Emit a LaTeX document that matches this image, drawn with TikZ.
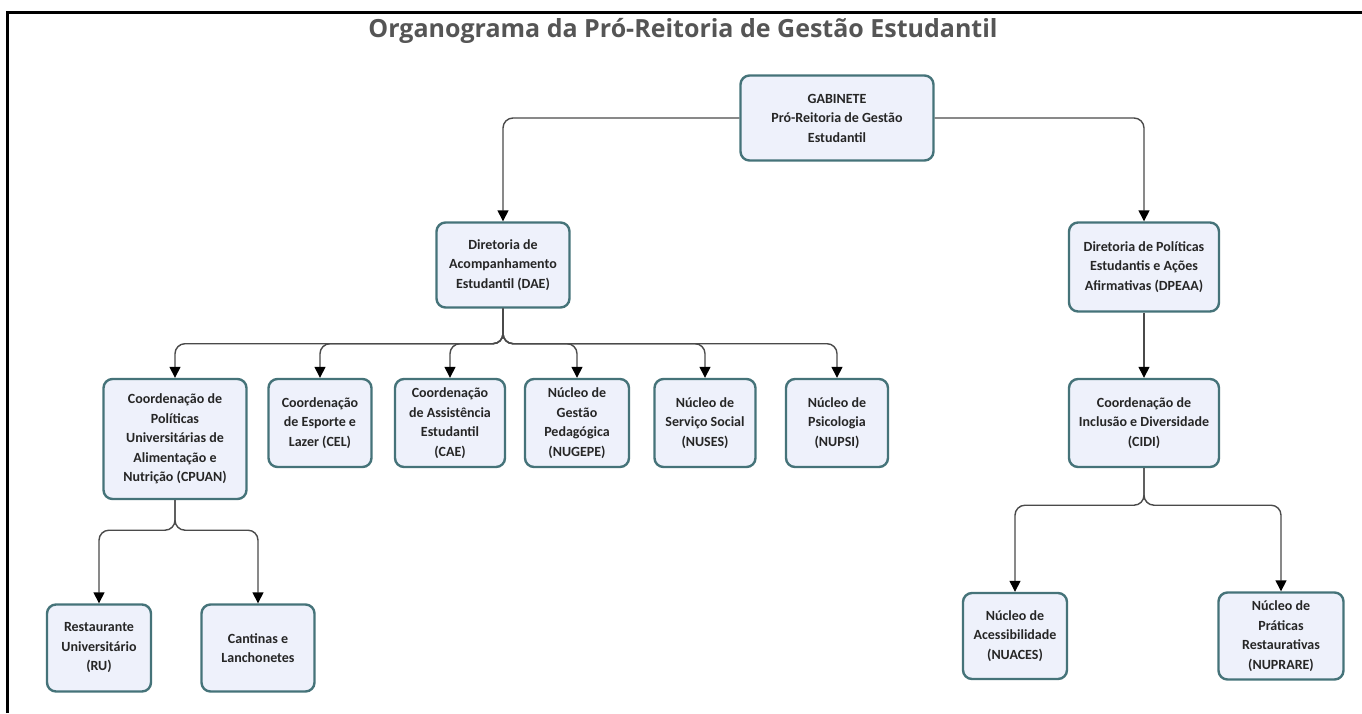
\documentclass[tikz,border=0pt]{standalone}
\usepackage{fontspec}
\setmainfont{Carlito}
\newfontfamily\titlefont{Open Sans}
\usetikzlibrary{arrows.meta, positioning}

\definecolor{boxfill}{HTML}{EEF1FB}
\definecolor{boxline}{HTML}{457379}
\definecolor{linkgray}{HTML}{4A4A4A}
\definecolor{titlegray}{HTML}{555555}

\begin{document}
\begin{tikzpicture}[x=1pt, y=-1pt,
    unit/.style={draw=boxline, fill=boxfill, line width=2.4pt, rounded corners=9pt,
        align=center, inner sep=2pt, text=black!85,
        font=\fontsize{14}{19.5}\selectfont\bfseries},
    link/.style={draw=linkgray, line width=1.4pt, rounded corners=10pt,
        -{Triangle[length=11pt,width=11pt,color=black]}}]
\useasboundingbox (0,0) rectangle (1362,713);
\draw[line width=3pt] (7,713) -- (7,12) -- (1362,12);

\node[font=\titlefont\fontsize{25}{29}\selectfont\bfseries, text=titlegray] (title) at (683,31)
    {Organograma da Pró-Reitoria de Gestão Estudantil};

% top levels
\node[unit, minimum width=193pt, minimum height=85pt] (gab) at (837,118)
    {GABINETE\\Pró-Reitoria de Gestão\\Estudantil};
\node[unit, minimum width=133pt, minimum height=85pt] (dae) at (503,265)
    {Diretoria de\\Acompanhamento\\Estudantil (DAE)};
\node[unit, minimum width=150pt, minimum height=89pt] (dpeaa) at (1144,267)
    {Diretoria de Políticas\\Estudantis e Ações\\Afirmativas (DPEAA)};

% DAE units
\node[unit, minimum width=143pt, minimum height=120pt] (cpuan) at (175,439)
    {Coordenação de\\Políticas\\Universitárias de\\Alimentação e\\Nutrição (CPUAN)};
\node[unit, minimum width=103pt, minimum height=88pt] (cel) at (320,423)
    {Coordenação\\de Esporte e\\Lazer (CEL)};
\node[unit, minimum width=110pt, minimum height=88pt] (cae) at (450,423)
    {Coordenação\\de Assistência\\Estudantil\\(CAE)};
\node[unit, minimum width=104pt, minimum height=88pt] (nugepe) at (577,423)
    {Núcleo de\\Gestão\\Pedagógica\\(NUGEPE)};
\node[unit, minimum width=101pt, minimum height=88pt] (nuses) at (705,423)
    {Núcleo de\\Serviço Social\\(NUSES)};
\node[unit, minimum width=102pt, minimum height=88pt] (nupsi) at (837,423)
    {Núcleo de\\Psicologia\\(NUPSI)};

% DPEAA units
\node[unit, minimum width=150pt, minimum height=88pt] (cidi) at (1144,423)
    {Coordenação de\\Inclusão e Diversidade\\(CIDI)};

% lowest level
\node[unit, minimum width=104pt, minimum height=87pt] (ru) at (99,648)
    {Restaurante\\Universitário\\(RU)};
\node[unit, minimum width=113pt, minimum height=87pt] (cant) at (258,648)
    {Cantinas e\\Lanchonetes};
\node[unit, minimum width=104pt, minimum height=86pt] (nuaces) at (1015,636)
    {Núcleo de\\Acessibilidade\\(NUACES)};
\node[unit, minimum width=125pt, minimum height=87pt] (nuprare) at (1281,636)
    {Núcleo de\\Práticas\\Restaurativas\\(NUPRARE)};

% connectors
\draw[link] (gab.west) -| (dae.north);
\draw[link] (gab.east) -| (dpeaa.north);
\draw[link] (dpeaa) -- (cidi);
\foreach \c in {cpuan,cel,cae,nugepe,nuses,nupsi}
    \draw[link] (dae.south) -- ++(0,35) -| (\c.north);
\foreach \c in {ru,cant}
    \draw[link] (cpuan.south) -- ++(0,30) -| (\c.north);
\foreach \c in {nuaces,nuprare}
    \draw[link] (cidi.south) -- ++(0,37) -| (\c.north);
\end{tikzpicture}
\end{document}
